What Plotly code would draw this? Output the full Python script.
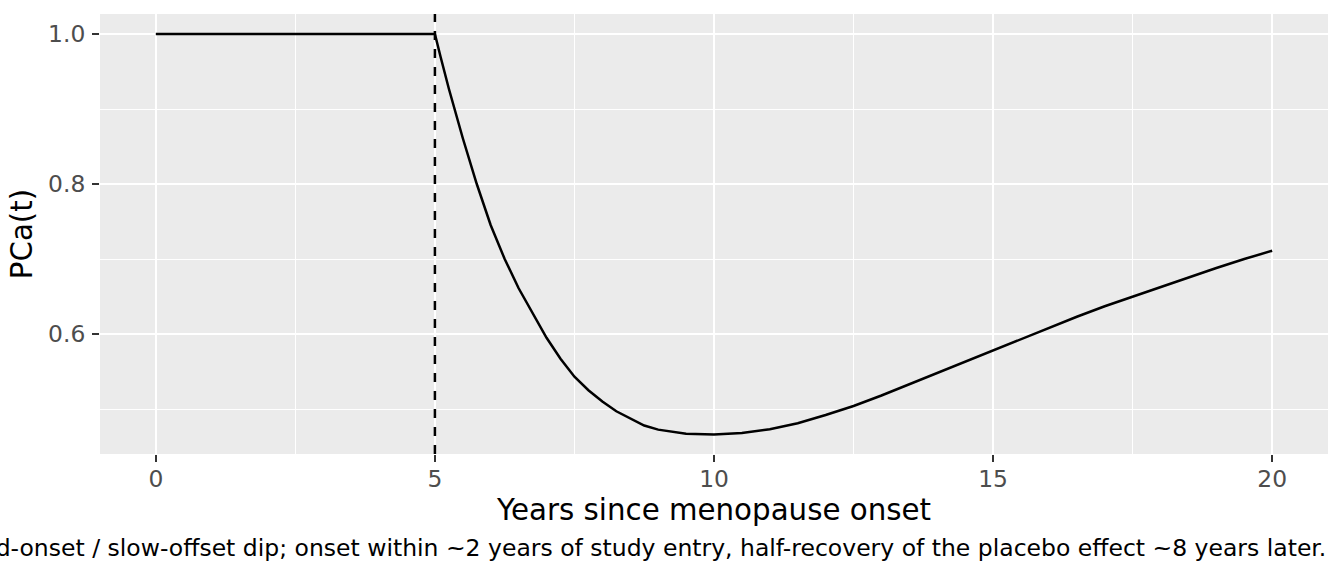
import plotly.graph_objects as go

# Dados
anos = [0, 1, 2, 3, 4, 5.0, 5.1, 5.25, 5.5, 5.75, 6.0, 6.25, 6.5, 6.75, 7.0, 7.25,
        7.5, 7.75, 8.0, 8.25, 8.5, 8.75, 9.0, 9.5, 10.0, 10.5, 11.0, 11.5, 12.0,
        12.5, 13.0, 13.5, 14.0, 14.5, 15.0, 15.5, 16.0, 16.5, 17.0, 17.5, 18.0,
        18.5, 19.0, 19.5, 20.0]
pca = [1.0, 1.0, 1.0, 1.0, 1.0, 1.0, 0.97, 0.927, 0.861, 0.8, 0.745, 0.7, 0.661, 0.627,
       0.595, 0.567, 0.543, 0.525, 0.51, 0.497, 0.487, 0.478, 0.4725, 0.467, 0.466,
       0.468, 0.473, 0.481, 0.492, 0.504, 0.518, 0.533, 0.548, 0.563, 0.579, 0.594,
       0.608, 0.623, 0.637, 0.65, 0.663, 0.676, 0.688, 0.7, 0.711]
inicio_estudo = 5

x_ticks = [0, 5, 10, 15, 20]
y_ticks = [0.6, 0.8, 1.0]
y_tick_labels = ["0.6", "0.8", "1.0"]

legenda = ("Rapid-onset / slow-offset dip; onset within ~2 years of study entry, "
           "half-recovery of the placebo effect ~8 years later.")

fonte = "DejaVu Sans"

fig = go.Figure()

fig.add_trace(go.Scatter(
    x=anos, y=pca, mode="lines",
    line=dict(color="black", width=2.5),
    showlegend=False, hoverinfo="skip"
))

# Linha vertical tracejada no início do estudo
fig.add_vline(x=inicio_estudo, line=dict(color="black", width=2.5, dash="dash"))

eixo = dict(
    showline=False, zeroline=False,
    gridcolor="white", gridwidth=2.2,
    ticks="outside", ticklen=7, tickwidth=2, tickcolor="#333333",
    tickfont=dict(family=fonte, size=23.4, color="#4D4D4D"),
    minor=dict(showgrid=True, gridcolor="white", gridwidth=1.3),
)

fig.update_xaxes(
    range=[-1, 21], tickvals=x_ticks, ticktext=[str(v) for v in x_ticks],
    minor_dtick=2.5, minor_tick0=0, ticklabelstandoff=-3,
    title=dict(text="Years since menopause onset", standoff=2,
               font=dict(family=fonte, size=29.3, color="black")),
    **eixo
)
fig.update_yaxes(
    range=[0.44, 1.0267], tickvals=y_ticks, ticktext=y_tick_labels,
    minor_dtick=0.1, minor_tick0=0, ticklabelstandoff=2,
    title=dict(text="PCa(t)", standoff=6,
               font=dict(family=fonte, size=29.3, color="black")),
    **eixo
)

fig.add_annotation(
    text=legenda, xref="paper", yref="paper", x=1, y=-0.2136,
    xanchor="right", yanchor="middle", showarrow=False,
    font=dict(family=fonte, size=23.5, color="black")
)

fig.update_layout(
    width=1344, height=576,
    margin=dict(l=100, r=16, t=14, b=122),
    paper_bgcolor="white", plot_bgcolor="#EBEBEB",
    font=dict(family=fonte)
)

# tira a margem padrão do <body> para o gráfico encostar no canto da janela
fig.write_html("out.html", config={"displayModeBar": False},
               post_script="document.body.style.margin='0';")
